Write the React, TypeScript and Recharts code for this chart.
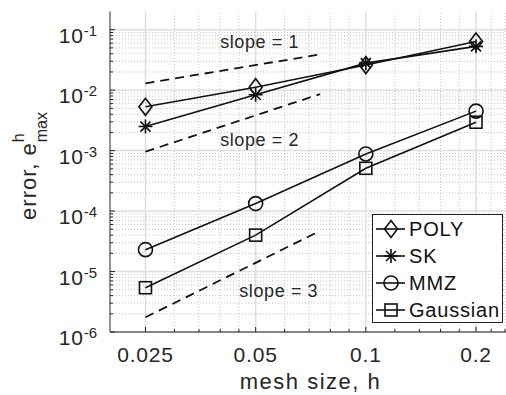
import { Legend, Line, LineChart, ReferenceDot, ReferenceLine, XAxis, YAxis } from 'recharts'

const meshSizes = [0.025, 0.05, 0.1, 0.2]
const polyErr = [5.3e-3, 1.12e-2, 2.6e-2, 6.4e-2]
const skErr = [2.5e-3, 8.4e-3, 2.8e-2, 5.3e-2]
const mmzErr = [2.3e-5, 1.33e-4, 8.8e-4, 4.5e-3]
const gaussErr = [5.4e-6, 4.0e-5, 5.1e-4, 2.95e-3]

const slopeMesh = [0.025, 0.075]
const slope1Err = [0.013, 0.039]
const slope2Err = [9.6e-4, 8.6e-3]
const slope3Err = [1.75e-6, 4.7e-5]

const slopeLabels = ['slope = 1', 'slope = 2', 'slope = 3']
const slopeLabelMesh = [0.04, 0.04, 0.0451]
const slopeLabelErr = [0.064, 1.5e-3, 4.9e-6]

const xMajorTicks = [0.025, 0.05, 0.1, 0.2]
const xMajorLabels = ['0.025', '0.05', '0.1', '0.2']
const xMinorTicks = [0.03, 0.035, 0.04, 0.045, 0.06, 0.07, 0.08, 0.09, 0.12, 0.14, 0.16, 0.18, 0.22, 0.24]
const yMajorTicks = [1e-6, 1e-5, 1e-4, 1e-3, 1e-2, 1e-1]
const yMajorExponents = ['-6', '-5', '-4', '-3', '-2', '-1']
const yMinorTicks = [-6, -5, -4, -3, -2].flatMap((e) => [2, 3, 4, 5, 6, 7, 8, 9].map((k) => k * 10 ** e))

const FONT = '"Liberation Sans", Arial, Helvetica, sans-serif'
const AXIS = '#262626'
const INK = '#111'

type Shape = 'diamond' | 'star' | 'circle' | 'square'

const series: { name: string; shape: Shape; values: number[] }[] = [
  { name: 'POLY', shape: 'diamond', values: polyErr },
  { name: 'SK', shape: 'star', values: skErr },
  { name: 'MMZ', shape: 'circle', values: mmzErr },
  { name: 'Gaussian', shape: 'square', values: gaussErr },
]

const toPoints = (xs: number[], ys: number[]) => xs.map((h, i) => ({ h, err: ys[i] }))

function Marker({ shape, cx, cy }: { shape: Shape; cx: number; cy: number }) {
  const common = { fill: 'none', stroke: INK, strokeWidth: 1.6 }
  if (shape === 'diamond') {
    return <polygon points={`${cx},${cy - 8.5} ${cx + 6.5},${cy} ${cx},${cy + 8.5} ${cx - 6.5},${cy}`} {...common} />
  }
  if (shape === 'circle') return <circle cx={cx} cy={cy} r={7} {...common} />
  if (shape === 'square') return <rect x={cx - 6} y={cy - 6} width={12} height={12} {...common} />
  return (
    <g {...common}>
      <line x1={cx} y1={cy - 7} x2={cx} y2={cy + 7} />
      <line x1={cx - 7} y1={cy} x2={cx + 7} y2={cy} />
      <line x1={cx - 5} y1={cy - 5} x2={cx + 5} y2={cy + 5} />
      <line x1={cx - 5} y1={cy + 5} x2={cx + 5} y2={cy - 5} />
    </g>
  )
}

function XTick(props: any) {
  const { x, y, payload, top } = props
  const idx = xMajorTicks.indexOf(payload.value)
  const len = idx >= 0 ? 5 : 3
  return (
    <g>
      <line x1={x} y1={y} x2={x} y2={top ? y + len : y - len} stroke={AXIS} strokeWidth={1} />
      {!top && idx >= 0 && (
        <text x={x} y={y + 30} textAnchor="middle" fontSize={21} letterSpacing={0.8} fill={AXIS} fontFamily={FONT}>
          {xMajorLabels[idx]}
        </text>
      )}
    </g>
  )
}

function YTick(props: any) {
  const { x, y, payload } = props
  const idx = yMajorTicks.indexOf(payload.value)
  const len = idx >= 0 ? 5 : 3
  return (
    <g>
      <line x1={x} y1={y} x2={x + len} y2={y} stroke={AXIS} strokeWidth={1} />
      {idx >= 0 && (
        <text x={x - 13} y={y + 13} textAnchor="end" fill={AXIS} fontFamily={FONT}>
          <tspan fontSize={21} letterSpacing={0.8}>10</tspan>
          <tspan fontSize={15} dy={-7}>{yMajorExponents[idx]}</tspan>
        </text>
      )}
    </g>
  )
}

function XTitle() {
  return (
    <text x={310.5} y={389} textAnchor="middle" fontSize={22} letterSpacing={1.5} fill={AXIS} fontFamily={FONT}>
      mesh size, h
    </text>
  )
}

function YTitle() {
  return (
    <g transform="translate(36, 166) rotate(-90)">
      <text x={0} y={0} textAnchor="middle" fill={AXIS} fontFamily={FONT}>
        <tspan fontSize={22} letterSpacing={1}>error, e</tspan>
        <tspan fontSize={16} dy={-12}>h</tspan>
        <tspan fontSize={16} dx={-9} dy={23}>max</tspan>
      </text>
    </g>
  )
}

function SlopeLabel(props: any) {
  const { viewBox, text } = props
  return (
    <text x={viewBox.x} y={viewBox.y} dy="0.35em" fontSize={18} letterSpacing={0.6} fill={AXIS} fontFamily={FONT}>
      {text}
    </text>
  )
}

function LegendBox() {
  return (
    <div
      style={{
        width: 131,
        height: 109,
        boxSizing: 'border-box',
        border: `1px solid ${AXIS}`,
        background: '#fff',
      }}
    >
      <svg width={129} height={107} style={{ display: 'block' }}>
        {series.map((s, i) => {
          const cy = 14 + i * 27
          return (
            <g key={s.name}>
              <line x1={3} y1={cy} x2={32} y2={cy} stroke={INK} strokeWidth={1.6} />
              <Marker shape={s.shape} cx={18} cy={cy} />
              <text x={36} y={cy} dy="0.36em" fontSize={20} letterSpacing={0.8} fill={INK} fontFamily={FONT}>
                {s.name}
              </text>
            </g>
          )
        })}
      </svg>
    </div>
  )
}

export default function App() {
  return (
    <div style={{ position: 'fixed', left: 0, top: 0, width: 506, height: 395, overflow: 'hidden', background: '#fff' }}>
      <LineChart width={520} height={395} margin={{ top: 11.5, right: 8.5, bottom: 0, left: 0 }}>
        {xMinorTicks.map((v) => (
          <ReferenceLine key={`xm${v}`} x={v} stroke="#c4c4c4" strokeDasharray="1 2" zIndex={-100} />
        ))}
        {yMinorTicks.map((v) => (
          <ReferenceLine key={`ym${v}`} y={v} stroke="#c4c4c4" strokeDasharray="1 2" zIndex={-100} />
        ))}
        {xMajorTicks.map((v) => (
          <ReferenceLine key={`xM${v}`} x={v} stroke="#dedede" strokeWidth={1.5} zIndex={-100} />
        ))}
        {yMajorTicks.map((v) => (
          <ReferenceLine key={`yM${v}`} y={v} stroke="#dedede" strokeWidth={1.5} zIndex={-100} />
        ))}

        <XAxis
          dataKey="h"
          type="number"
          scale="log"
          domain={[0.02, 0.25]}
          allowDataOverflow
          ticks={[...xMajorTicks, ...xMinorTicks]}
          interval={0}
          height={63}
          tickSize={0}
          tickMargin={0}
          tickLine={false}
          tick={<XTick />}
          axisLine={{ stroke: AXIS, strokeWidth: 1 }}
          label={<XTitle />}
        />
        <XAxis
          xAxisId="top"
          orientation="top"
          dataKey="h"
          type="number"
          scale="log"
          domain={[0.02, 0.25]}
          allowDataOverflow
          ticks={[...xMajorTicks, ...xMinorTicks]}
          interval={0}
          height={0}
          tickSize={0}
          tickMargin={0}
          tickLine={false}
          tick={<XTick top />}
          axisLine={{ stroke: AXIS, strokeWidth: 1 }}
        />
        <YAxis
          type="number"
          scale="log"
          domain={[1e-6, 0.2]}
          allowDataOverflow
          ticks={[...yMajorTicks, ...yMinorTicks]}
          interval={0}
          width={110}
          tickSize={0}
          tickMargin={0}
          tickLine={false}
          tick={<YTick />}
          axisLine={{ stroke: AXIS, strokeWidth: 1 }}
          label={<YTitle />}
        />

        {[slope1Err, slope2Err, slope3Err].map((ys, i) => (
          <Line
            key={`slope${i}`}
            data={toPoints(slopeMesh, ys)}
            dataKey="err"
            stroke={INK}
            strokeWidth={1.8}
            strokeDasharray="9 6"
            dot={false}
            activeDot={false}
            isAnimationActive={false}
            legendType="none"
          />
        ))}

        {slopeLabels.map((t, i) => (
          <ReferenceDot
            key={t}
            x={slopeLabelMesh[i]}
            y={slopeLabelErr[i]}
            r={0}
            fill="none"
            stroke="none"
            label={<SlopeLabel text={t} />}
          />
        ))}

        {series.map((s) => (
          <Line
            key={s.name}
            name={s.name}
            data={toPoints(meshSizes, s.values)}
            dataKey="err"
            stroke={INK}
            strokeWidth={1.6}
            isAnimationActive={false}
            activeDot={false}
            dot={(p: any) => <Marker key={`${s.name}${p.index}`} shape={s.shape} cx={p.cx} cy={p.cy} />}
          />
        ))}

        <Legend
          layout="horizontal"
          verticalAlign="middle"
          align="center"
          content={() => <LegendBox />}
          wrapperStyle={{ left: 371.5, top: 214, width: 131, height: 109 }}
        />
      </LineChart>
    </div>
  )
}
